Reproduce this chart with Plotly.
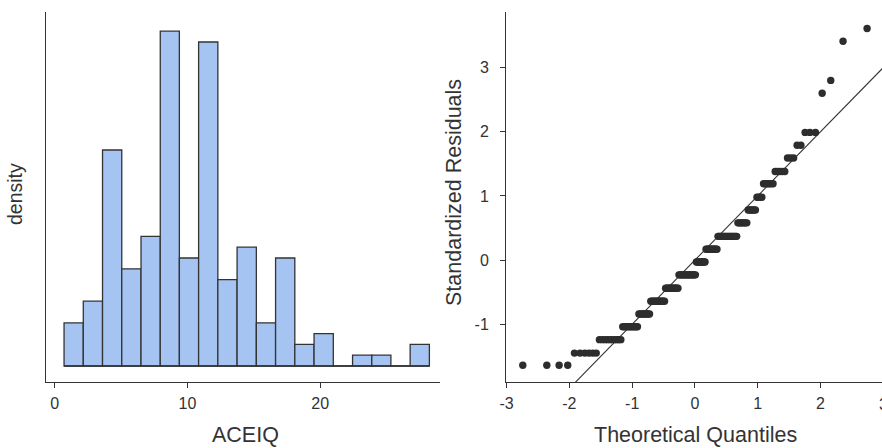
import plotly.graph_objects as go
from statistics import NormalDist

# ---------------- data ----------------
# Histogram of ACEIQ (bin edges and counts)
bin_edges = [0.70, 2.15, 3.60, 5.05, 6.50, 7.95, 9.39, 10.84, 12.29, 13.74,
             15.19, 16.64, 18.09, 19.54, 20.99, 22.44, 23.89, 25.33, 26.78, 28.23]
bin_counts = [4, 6, 20, 9, 12, 31, 10, 30, 8, 11, 4, 10, 2, 3, 0, 1, 1, 0, 2]
hist_xticks = [0, 10, 20]

# Q-Q plot: distinct standardized residual values and how many cases sit at each
resid_levels = [-1.64, -1.45, -1.24, -1.04, -0.84, -0.64, -0.44, -0.23, -0.03,
                0.17, 0.37, 0.58, 0.78, 0.98, 1.19, 1.38, 1.59, 1.79, 1.99,
                2.60, 2.80, 3.41, 3.61]
resid_counts = [4, 6, 10, 10, 9, 13, 13, 18, 10, 12, 18, 8, 6, 4, 6, 5, 3, 2, 3,
                1, 1, 1, 1]
qq_xticks = [-3, -2, -1, 0, 1, 2]
qq_xlabels = ["-3", "-2", "-1", "0", "1", "2"]
qq_clipped_tick = 3
qq_yticks = [-1, 0, 1, 2, 3]
qq_ylabels = ["-1", "0", "1", "2", "3"]

# ---------------- derived ----------------
centers = [(a + b) / 2 for a, b in zip(bin_edges[:-1], bin_edges[1:])]
widths = [b - a for a, b in zip(bin_edges[:-1], bin_edges[1:])]

resid_sorted = []
for v, c in zip(resid_levels, resid_counts):
    resid_sorted += [v] * c
n = len(resid_sorted)
nd = NormalDist()
theo = [nd.inv_cdf((i + 0.5) / n) for i in range(n)]

W, H = 882, 448
FONT = "Liberation Sans, Arial, sans-serif"
TXT = "#333333"
AX = "#333333"

def fx(px):
    return px / W

def fy(py):
    return 1 - py / H

fig = go.Figure()

# baseline under empty bins (outline of zero-height bins)
fig.add_trace(go.Scatter(
    x=[bin_edges[0], bin_edges[-1]], y=[0, 0], mode="lines",
    line=dict(color="#333333", width=1.3), xaxis="x", yaxis="y",
    showlegend=False, hoverinfo="skip",
))
fig.add_trace(go.Bar(
    x=centers, y=bin_counts, width=widths,
    marker=dict(color="#A6C4F1", line=dict(color="#333333", width=1.3)),
    xaxis="x", yaxis="y", showlegend=False,
))

qx_range = [-3.01, 2.98]
qy_range = [-1.90, 3.866]
line_x = [qx_range[0] - 0.2, qx_range[1] + 0.2]
fig.add_trace(go.Scatter(
    x=line_x, y=line_x, mode="lines",
    line=dict(color="#333333", width=1.1),
    xaxis="x2", yaxis="y2", showlegend=False, hoverinfo="skip",
))
fig.add_trace(go.Scatter(
    x=theo, y=resid_sorted, mode="markers",
    marker=dict(color="#2d2d2d", size=7.4, line=dict(width=0)),
    xaxis="x2", yaxis="y2", showlegend=False,
))

ydom = [fy(382), fy(12)]
x2dom = [fx(506), 1.0]
common = dict(showgrid=False, zeroline=False, showline=True, linecolor=AX,
              linewidth=1, ticks="outside", ticklen=5, tickcolor=AX, tickwidth=1,
              automargin=False,
              tickfont=dict(family=FONT, size=16, color=TXT))

# paper position of the clipped "3" tick label at the right edge of the Q-Q axis
clip_x = x2dom[0] + (qq_clipped_tick - qx_range[0]) / (qx_range[1] - qx_range[0]) * (x2dom[1] - x2dom[0])

fig.update_layout(
    width=W, height=H,
    margin=dict(l=0, r=0, t=0, b=0),
    paper_bgcolor="white", plot_bgcolor="white",
    xaxis=dict(domain=[fx(46), fx(440)], range=[-0.66, 29.03],
               tickvals=hist_xticks, ticklabelstandoff=2, anchor="y", **common),
    yaxis=dict(domain=ydom, range=[-1.48, 32.78], showticklabels=False,
               showgrid=False, zeroline=False, showline=True, linecolor=AX,
               linewidth=1, ticks="", anchor="x", automargin=False),
    xaxis2=dict(domain=x2dom, range=qx_range, tickvals=qq_xticks,
                ticktext=qq_xlabels, ticklabelstandoff=2, anchor="y2", **common),
    yaxis2=dict(domain=ydom, range=qy_range, tickvals=qq_yticks,
                ticktext=qq_ylabels, ticklabelstandoff=8, anchor="x2", **common),
    annotations=[
        dict(text="ACEIQ", x=fx(246), y=fy(435), xref="paper", yref="paper",
             xanchor="center", yanchor="middle", showarrow=False,
             font=dict(family=FONT, size=21.5, color=TXT)),
        dict(text="Theoretical Quantiles", x=fx(695), y=fy(435), xref="paper",
             yref="paper", xanchor="center", yanchor="middle", showarrow=False,
             font=dict(family=FONT, size=21.5, color=TXT)),
        dict(text="density", x=fx(15), y=fy(194), xref="paper", yref="paper",
             xanchor="center", yanchor="middle", textangle=-90, showarrow=False,
             font=dict(family=FONT, size=19.5, color=TXT)),
        dict(text="Standardized Residuals", x=fx(454), y=fy(193), xref="paper",
             yref="paper", xanchor="center", yanchor="middle", textangle=-90,
             showarrow=False, font=dict(family=FONT, size=21.5, color=TXT)),
        dict(text=str(qq_clipped_tick), x=clip_x, y=fy(404), xref="paper",
             yref="paper", showarrow=False, xanchor="center", yanchor="middle",
             font=dict(family=FONT, size=16, color=TXT)),
    ],
)

fig.write_html("out.html")
